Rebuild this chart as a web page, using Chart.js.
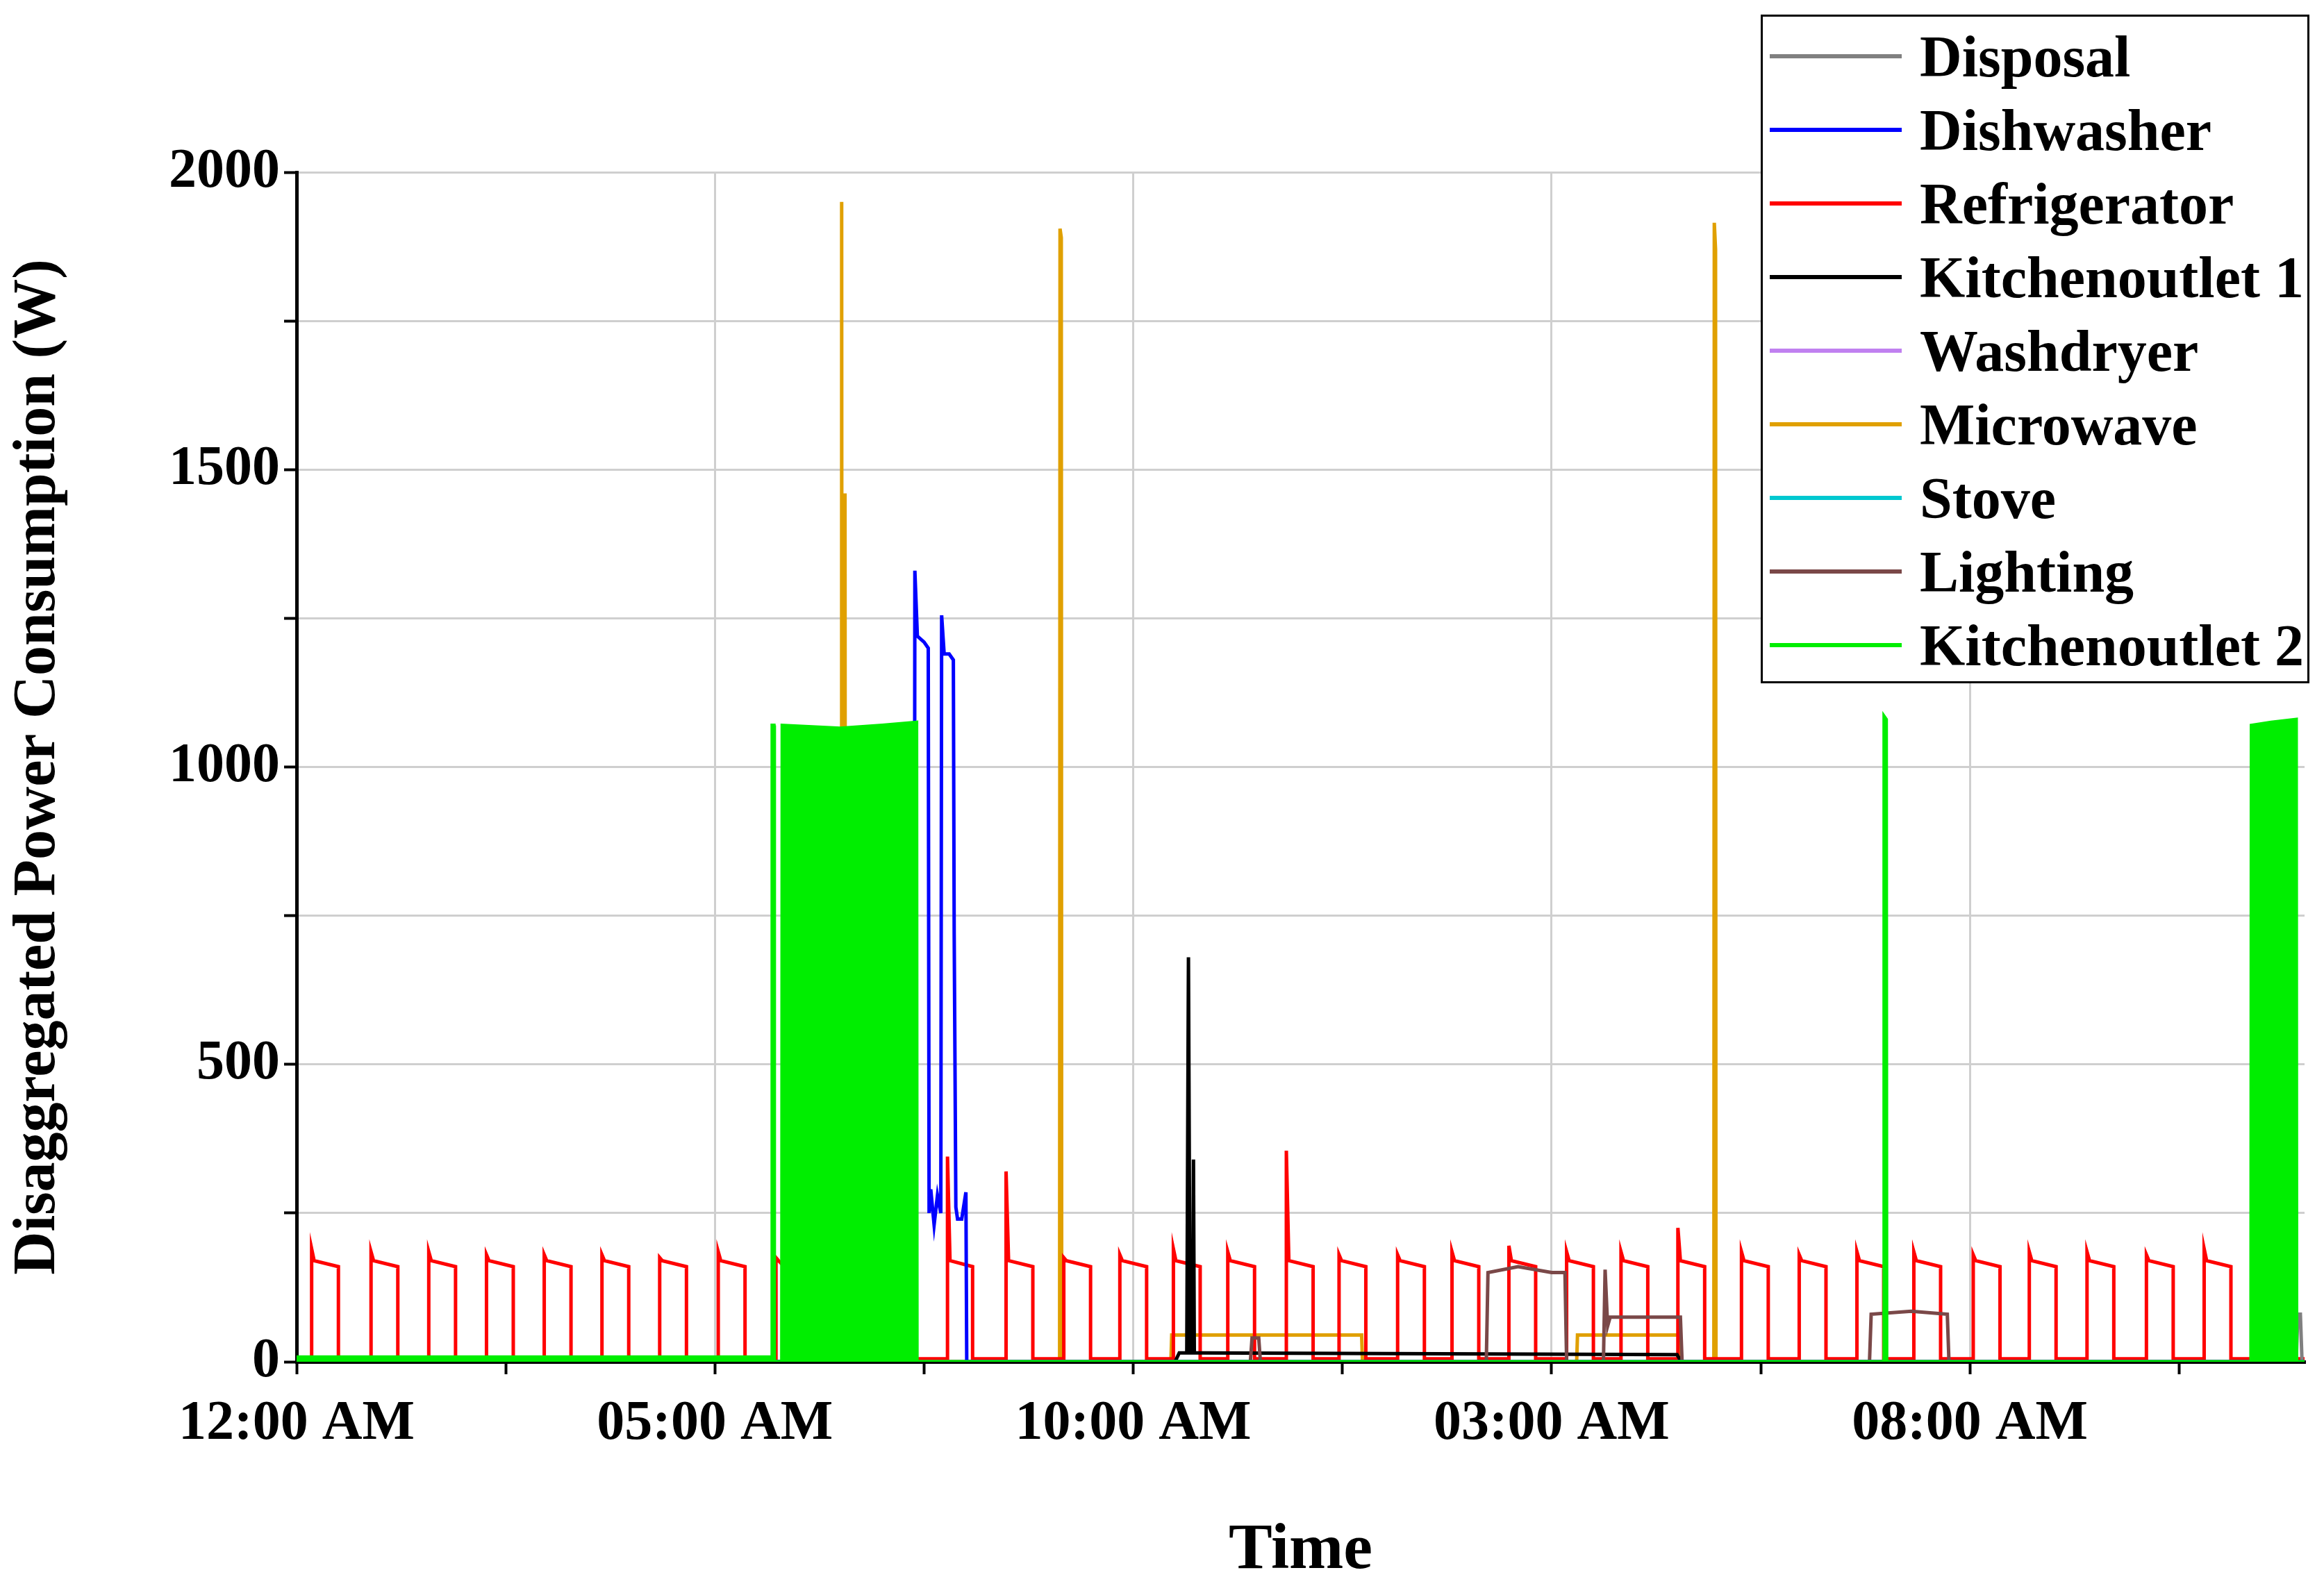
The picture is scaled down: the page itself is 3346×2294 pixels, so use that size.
<!DOCTYPE html>
<html>
<head>
<meta charset="utf-8">
<script src="https://cdn.jsdelivr.net/npm/chart.js@4/dist/chart.umd.min.js"></script>
<style>
html,body{margin:0;padding:0;background:#fff;}
#wrap{position:relative;width:3346px;height:2294px;}
#legend{position:absolute;left:2535px;top:21px;width:790px;height:963px;border:3px solid #000;background:#fff;
 font-family:"Liberation Serif",serif;font-weight:bold;font-size:84px;box-sizing:border-box;padding-top:4px;}
.item{height:106px;display:flex;align-items:center;}
.sw{width:190px;height:6px;margin-left:10px;margin-right:26px;}
</style>
</head>
<body>
<div id="wrap"><canvas id="c" width="3346" height="2294"></canvas><div id="legend"></div></div>
<script>
// hours since midnight, watts
const xTickLabels = {0:"12:00 AM",5:"05:00 AM",10:"10:00 AM",15:"03:00 AM",20:"08:00 AM"};

// refrigerator compressor cycles: start hour, peak, length
const fridgeStarts = [0.18,0.89,1.58,2.27,2.96,3.65,4.34,5.04,5.73,7.78,8.48,9.17,9.84,10.48,11.13,11.83,12.46,13.16,13.81,14.49,15.18,15.83,16.51,17.27,17.96,18.65,19.33,20.04,20.71,21.4,22.11,22.8];
const fridgePeaks  = [190,185,185,180,180,180,175,185,175,345,320,175,180,190,185,355,180,180,185,195,185,185,225,185,180,185,185,180,185,185,180,190];
const fridgeLen    = [0.32,0.32,0.32,0.32,0.32,0.32,0.32,0.32,0.1,0.3,0.32,0.32,0.32,0.32,0.32,0.32,0.32,0.32,0.32,0.32,0.32,0.32,0.32,0.32,0.32,0.32,0.32,0.32,0.32,0.32,0.32,0.32];

const disposalX = [0,23.9,23.92,23.95,23.97,24];
const disposalY = [0,0,80,80,0,0];

const dishX = [0,7.38,7.39,7.42,7.5,7.55,7.56,7.58,7.62,7.66,7.7,7.71,7.74,7.8,7.85,7.86,7.88,7.9,7.95,8.0,8.01,24];
const dishY = [0,0,1330,1220,1210,1200,250,290,230,280,250,1255,1190,1190,1180,720,260,240,240,285,0,0];

const k1X = [0,10.5,10.55,10.64,10.66,10.68,10.71,10.72,10.73,10.8,16.5,16.55,24];
const k1Y = [0,0,15,15,680,15,15,340,15,15,12,0,0];

const washX = [0,24];
const washY = [0,0];

const microX = [0,6.51,6.515,6.52,6.55,6.555,6.56,9.12,9.125,9.14,9.145,10.45,10.46,12.73,12.74,15.3,15.31,16.54,16.55,16.94,16.945,16.96,16.965,24];
const microY = [0,0,1950,0,0,1460,0,0,1905,1890,0,0,45,45,0,0,45,45,0,0,1915,1870,0,0];

const stoveX = [0,24];
const stoveY = [0,0];

const lightX = [0,11.4,11.42,11.5,11.52,14.22,14.24,14.6,15.0,15.16,15.18,15.62,15.64,15.67,15.7,16.54,16.56,18.8,18.82,19.3,19.73,19.75,24];
const lightY = [0,0,40,40,0,0,150,160,150,150,0,0,155,60,75,75,0,0,80,85,80,0,0];

const k2X = [0,5.68,5.685,5.705,5.71,5.8,5.805,6.5,7.0,7.41,7.415,18.97,18.975,19.0,19.005,23.36,23.365,23.6,23.9,23.905,24];
const k2Y = [8,8,1070,1070,0,0,1070,1065,1070,1075,0,0,1085,1080,0,0,1070,1075,1080,0,0];

function pts(xs, ys){ return xs.map((x,i)=>({x:x,y:ys[i]})); }
function fridgePts(){
	let p=[{x:0,y:5}];
	fridgeStarts.forEach((t,i)=>{
		p.push({x:t,y:5},{x:t,y:fridgePeaks[i]},{x:t+0.03,y:170},{x:t+fridgeLen[i],y:160},{x:t+fridgeLen[i],y:5});
	});
	p.push({x:24,y:5});
	return p;
}

const series = [
	{label:"Disposal", color:"#808080", data:pts(disposalX,disposalY), order:3},
	{label:"Dishwasher", color:"#0000ff", data:pts(dishX,dishY), order:2},
	{label:"Refrigerator", color:"#ff0000", data:fridgePts(), order:5},
	{label:"Kitchenoutlet 1", color:"#000000", data:pts(k1X,k1Y), order:4},
	{label:"Washdryer", color:"#c080f0", data:pts(washX,washY), order:8},
	{label:"Microwave", color:"#e0a000", data:pts(microX,microY), order:6},
	{label:"Stove", color:"#00c8d0", data:pts(stoveX,stoveY), order:9},
	{label:"Lighting", color:"#7a4848", data:pts(lightX,lightY), order:3},
	{label:"Kitchenoutlet 2", color:"#00ee00", data:pts(k2X,k2Y), order:1, fill:true},
];

const leg = document.getElementById("legend");
series.forEach(s=>{
	const d=document.createElement("div"); d.className="item";
	d.innerHTML='<span class="sw" style="background:'+s.color+'"></span><span>'+s.label+'</span>';
	leg.appendChild(d);
});

const font = {family:"Liberation Serif", weight:"bold", size:80};

new Chart(document.getElementById("c"), {
	type:"line",
	data:{datasets:series.map(s=>({
		label:s.label, data:s.data, borderColor:s.color, backgroundColor:s.color,
		borderWidth:5, pointRadius:0, tension:0, order:s.order,
		fill: s.fill ? "origin" : false,
	}))},
	options:{
		responsive:false, animation:false,
		layout:{padding:{top:248,right:28,left:0,bottom:0}},
		plugins:{legend:{display:false}, tooltip:{enabled:false}},
		scales:{
			x:{
				type:"linear", min:0, max:24,
				afterFit:(s)=>{ s.height=333; },
				afterBuildTicks:(s)=>{ s.ticks=[0,2.5,5,7.5,10,12.5,15,17.5,20,22.5].map(v=>({value:v})); },
				ticks:{color:"#000", font:font, padding:24, maxRotation:0, autoSkip:false,
					callback:(v)=> xTickLabels[v] !== undefined ? xTickLabels[v] : ""},
				grid:{color:(c)=> (c.tick && c.tick.value%5===0 && c.tick.value>0) ? "#cfcfcf" : "transparent",
					lineWidth:3, tickColor:"#000", tickLength:18, tickWidth:4, drawOnChartArea:true},
				border:{color:"#000", width:5},
				title:{display:true, text:"Time", color:"#000", font:{family:"Liberation Serif",weight:"bold",size:94}, padding:{top:40}}
			},
			y:{
				min:0, max:2000,
				afterFit:(s)=>{ s.width=427; },
				ticks:{stepSize:250, color:"#000", font:font, padding:6,
					callback:(v)=> v%500===0 ? v : ""},
				grid:{color:(c)=> c.tick && c.tick.value>0 ? "#cfcfcf" : "transparent",
					lineWidth:3, tickColor:"#000", tickLength:18, tickWidth:4},
				border:{color:"#000", width:5},
				title:{display:true, text:"Disaggregated Power Consumption (W)", color:"#000", font:{family:"Liberation Serif",weight:"bold",size:86}, padding:{bottom:4}}
			}
		}
	}
});
</script>
</body>
</html>
